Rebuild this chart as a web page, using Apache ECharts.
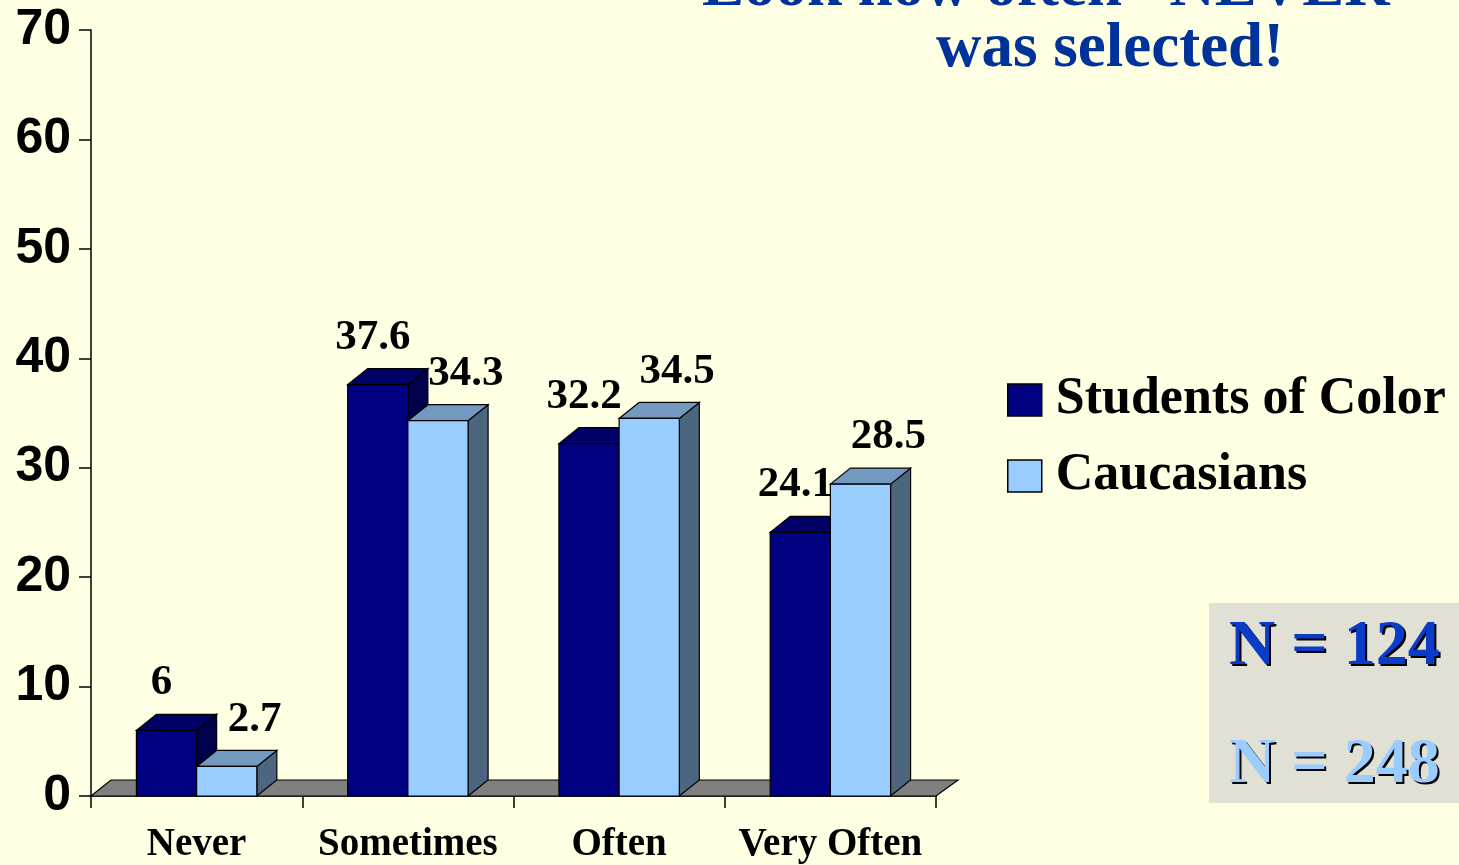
<!DOCTYPE html>
<html>
<head>
<meta charset="utf-8">
<script src="https://cdn.jsdelivr.net/npm/echarts@6/dist/echarts.min.js"></script>
<style>
html,body{margin:0;padding:0;background:#FFFFE3;}
#chart{width:1459px;height:865px;}
</style>
</head>
<body>
<div id="chart"></div>
<script>
const categories = ['Never', 'Sometimes', 'Often', 'Very Often'];
const studentsOfColor = [6, 37.6, 32.2, 24.1];
const caucasians = [2.7, 34.3, 34.5, 28.5];
const yTicks = [0, 10, 20, 30, 40, 50, 60, 70];
const seriesNames = ['Students of Color', 'Caucasians'];
const titleLines = ['Look how often \u201CNEVER\u201D', 'was selected!'];
const nLabels = ['N = 124', 'N = 248'];

const SERIF = '"Liberation Serif","Times New Roman",serif';
const SANS = '"Liberation Sans",Arial,sans-serif';
const DX = 20, DY = -16;
const palettes = [
  {front: '#000080', top: '#000066', side: '#00004D'},
  {front: '#99CCFF', top: '#7399C0', side: '#4D6680'}
];

function barRenderer(si) {
  return function (params, api) {
    const ci = api.value(0), v = api.value(1);
    const base = api.coord([ci, 0]);
    const top = api.coord([ci, v]);
    const bw = api.size([1, 0])[0];
    const w = bw * 0.285;
    const x0 = si === 0 ? base[0] - w : base[0];
    const by = base[1], ty = top[1];
    const p = palettes[si];
    const ls = {stroke: '#000', lineWidth: 1.2};
    const labelX = x0 + w / 2 + (si === 0 ? -5 : 28);
    return {
      type: 'group',
      children: [
        {type: 'polygon', shape: {points: [[x0 + w, ty], [x0 + w + DX, ty + DY], [x0 + w + DX, by + DY], [x0 + w, by]]},
         style: Object.assign({fill: p.side}, ls)},
        {type: 'polygon', shape: {points: [[x0, ty], [x0 + w, ty], [x0 + w + DX, ty + DY], [x0 + DX, ty + DY]]},
         style: Object.assign({fill: p.top}, ls)},
        {type: 'rect', shape: {x: x0, y: ty, width: w, height: by - ty},
         style: Object.assign({fill: p.front}, ls)},
        {type: 'text', style: {text: String(v), x: labelX, y: ty + DY - 31, align: 'center', verticalAlign: 'middle',
          font: 'bold 43px ' + SERIF, fill: '#000'}}
      ]
    };
  };
}

function floorRenderer(params, api) {
  const bw = api.size([1, 0])[0];
  const l = api.coord([0, 0]);
  const r = api.coord([categories.length - 1, 0]);
  const x1 = l[0] - bw / 2, x2 = r[0] + bw / 2, y = l[1];
  return {
    type: 'polygon',
    shape: {points: [[x1, y], [x2, y], [x2 + DX + 2, y + DY], [x1 + DX, y + DY]]},
    style: {fill: '#808080', stroke: '#000', lineWidth: 1.2}
  };
}

function shadowText(txt, left, top, color) {
  return [
    {type: 'text', left: left + 2, top: top + 2, style: {text: txt, font: 'bold 64px ' + SERIF, fill: '#000'}},
    {type: 'text', left: left, top: top, style: {text: txt, font: 'bold 64px ' + SERIF, fill: color}}
  ];
}

const chart = echarts.init(document.getElementById('chart'));
chart.setOption({
  backgroundColor: '#FFFFE3',
  animation: false,
  grid: {left: 91, right: 523, top: 30, bottom: 69},
  xAxis: {
    type: 'category', data: categories, boundaryGap: true,
    axisLine: {lineStyle: {color: '#000', width: 1.5}},
    axisTick: {show: true, length: 12, lineStyle: {color: '#000', width: 1.5}},
    axisLabel: {fontFamily: SERIF, fontWeight: 'bold', fontSize: 39, color: '#000', margin: 29, interval: 0}
  },
  yAxis: {
    type: 'value', min: yTicks[0], max: yTicks[yTicks.length - 1], interval: 10,
    splitLine: {show: false},
    axisLine: {show: true, lineStyle: {color: '#000', width: 1.5}},
    axisTick: {show: true, length: 12, lineStyle: {color: '#000', width: 1.5}},
    axisLabel: {fontFamily: SANS, fontWeight: 'bold', fontSize: 50, color: '#000', margin: 20}
  },
  legend: {
    orient: 'vertical', left: 1007, top: 374, padding: 0,
    itemWidth: 34, itemHeight: 32, itemGap: 24,
    icon: 'rect',
    itemStyle: {borderColor: '#000', borderWidth: 1.5},
    textStyle: {fontFamily: SERIF, fontWeight: 'bold', fontSize: 52, color: '#000', lineHeight: 50, padding: [0, 0, 0, 9]},
    data: seriesNames
  },
  series: [
    {type: 'custom', name: 'floor', renderItem: floorRenderer, data: [[0, 0]], z: 1, silent: true},
    {type: 'custom', name: seriesNames[0], renderItem: barRenderer(0), itemStyle: {color: palettes[0].front},
     data: studentsOfColor.map((v, i) => [i, v]), z: 2},
    {type: 'custom', name: seriesNames[1], renderItem: barRenderer(1), itemStyle: {color: palettes[1].front},
     data: caucasians.map((v, i) => [i, v]), z: 3}
  ],
  graphic: [
    {type: 'text', left: 702, top: -43, style: {text: titleLines[0], font: 'bold 63px ' + SERIF, fill: '#003399'}},
    {type: 'text', left: 936, top: 18, style: {text: titleLines[1], font: 'bold 63px ' + SERIF, fill: '#003399'}},
    {type: 'rect', shape: {x: 1209, y: 603, width: 260, height: 200}, style: {fill: '#E0E0D4'}}
  ].concat(shadowText(nLabels[0], 1229, 615, '#0A3CC8'), shadowText(nLabels[1], 1229, 733, '#99CCFF'))
});
</script>
</body>
</html>
